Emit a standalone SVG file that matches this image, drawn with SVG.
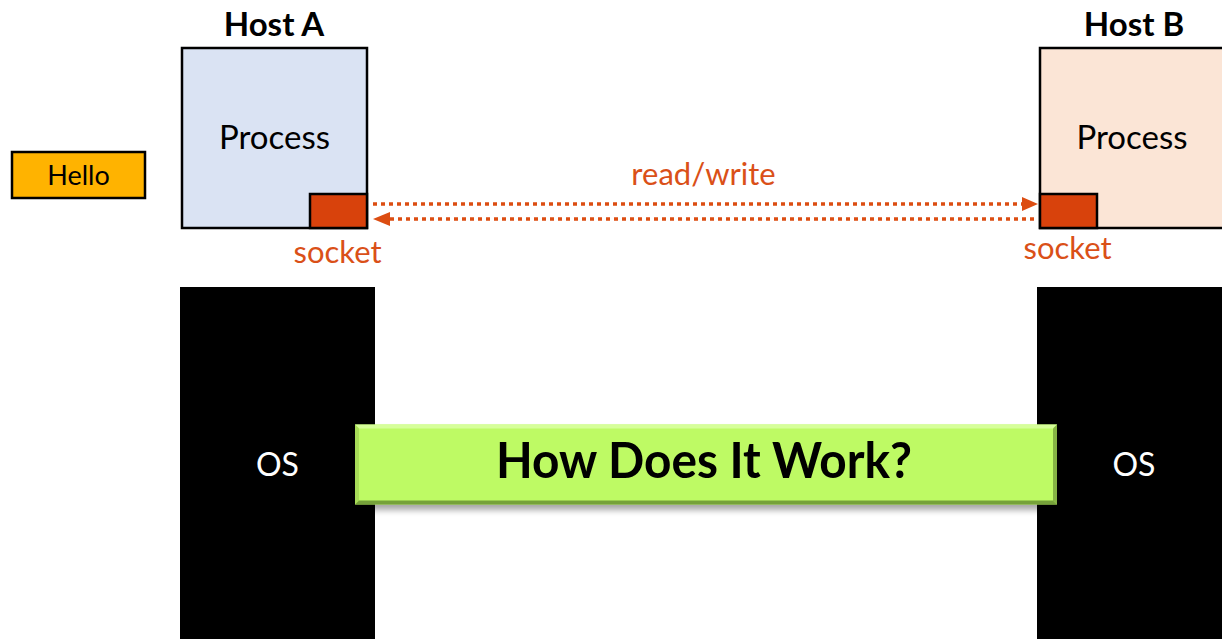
<svg xmlns="http://www.w3.org/2000/svg" width="1222" height="639" viewBox="0 0 1222 639">
  <defs>
    <style>
      .lbl { font-family: Lato, "Open Sans", "Liberation Sans", sans-serif; text-anchor: middle; }
      .host { font-weight: bold; font-size: 33px; fill: #000; }
      .proc { font-size: 33px; fill: #000; }
      .orange { font-size: 31px; fill: #DA5018; }
      .os { font-size: 32px; fill: #fff; }
      .box { stroke: #000; stroke-width: 2.5; }
      .sock { fill: #D8420C; stroke: #000; stroke-width: 2.5; }
      .dots { fill: none; stroke: #DC4D12; stroke-width: 3.5; stroke-dasharray: 4 4; }
      .head { fill: #DC4D12; }
    </style>
    <filter id="shadow" x="-5%" y="-30%" width="110%" height="160%">
      <feGaussianBlur stdDeviation="3"/>
    </filter>
  </defs>

  <rect width="1222" height="639" fill="#fff"/>

  <!-- message being sent -->
  <g id="hello">
    <rect class="box" x="12" y="152" width="133" height="46" fill="#FFB300" stroke-width="2.7"/>
    <text class="lbl" x="78.5" y="185" font-size="27" fill="#000">Hello</text>
  </g>

  <!-- host A: process with its socket -->
  <g id="hostA">
    <text class="lbl host" x="274" y="36">Host A</text>
    <rect class="box" x="182" y="48" width="185" height="180" fill="#DAE3F3"/>
    <text class="lbl proc" x="274.5" y="149">Process</text>
  </g>
  <g id="socketA">
    <rect class="sock" x="310" y="194" width="57" height="34"/>
    <text class="lbl orange" x="337.5" y="263">socket</text>
  </g>

  <!-- host B: process with its socket -->
  <g id="hostB">
    <text class="lbl host" x="1134" y="36">Host B</text>
    <rect class="box" x="1040" y="48" width="300" height="180" fill="#FBE5D6"/>
    <text class="lbl proc" x="1132" y="149">Process</text>
  </g>
  <g id="socketB">
    <rect class="sock" x="1040" y="194" width="57" height="34"/>
    <text class="lbl orange" x="1067.5" y="259">socket</text>
  </g>

  <!-- operating systems -->
  <g id="osA">
    <rect x="180" y="287" width="195" height="360" fill="#000"/>
    <text class="lbl os" x="277.5" y="476">OS</text>
  </g>
  <g id="osB">
    <rect x="1037" y="287" width="200" height="360" fill="#000"/>
    <text class="lbl os" x="1134" y="476">OS</text>
  </g>

  <!-- read/write channel between the sockets -->
  <g id="connectors">
    <line class="dots" x1="373" y1="204" x2="1022" y2="204"/>
    <polygon class="head" points="1038,204 1022,197 1022,211"/>
    <line class="dots" x1="390" y1="219" x2="1037" y2="219"/>
    <polygon class="head" points="373,219 390,212 390,226"/>
    <text class="lbl orange" x="703.5" y="185">read/write</text>
  </g>

  <!-- bevelled banner -->
  <g id="banner">
    <rect x="357" y="430" width="700" height="80" fill="#000" opacity="0.35" filter="url(#shadow)"/>
    <rect x="355" y="424.5" width="702" height="80" fill="#BEFA64"/>
    <polygon points="355,424.5 1057,424.5 1053,428.5 359,428.5" fill="#D6FF9A"/>
    <polygon points="355,424.5 359,428.5 359,500.5 355,504.5" fill="#A8DC58"/>
    <polygon points="1057,424.5 1057,504.5 1053,500.5 1053,428.5" fill="#86B445"/>
    <polygon points="355,504.5 1057,504.5 1053,500.5 359,500.5" fill="#76A23A"/>
    <text class="lbl" x="704" y="478" font-size="50" font-weight="bold" fill="#000" textLength="416" lengthAdjust="spacingAndGlyphs">How Does It Work?</text>
  </g>
</svg>
